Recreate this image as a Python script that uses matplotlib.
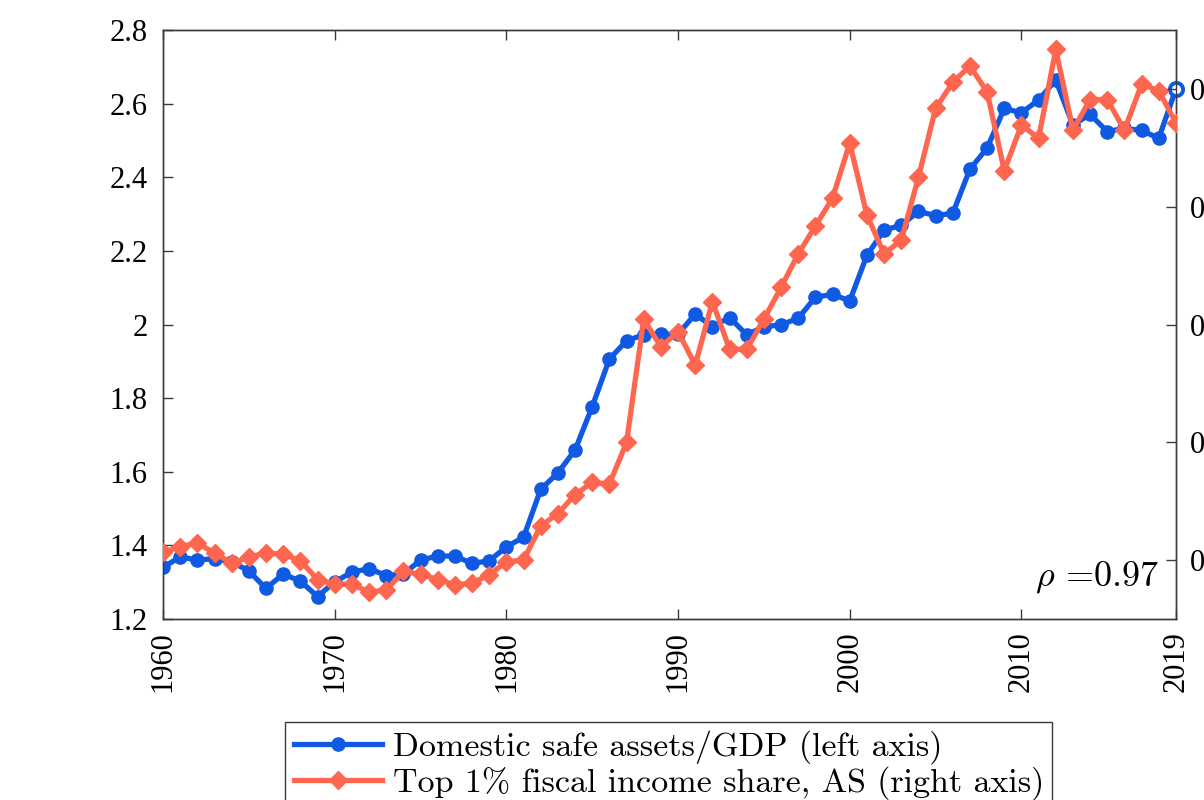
import numpy as np
import matplotlib
matplotlib.use('Agg')
import matplotlib.pyplot as plt

plt.rcParams['mathtext.fontset'] = 'cm'
plt.rcParams['axes.formatter.use_mathtext'] = True

years = list(range(1960, 2020))

# Domestic safe assets / GDP (left axis)
safe_assets = [
    1.340, 1.369, 1.360, 1.364, 1.356, 1.330, 1.283, 1.322, 1.303, 1.261,
    1.301, 1.327, 1.337, 1.318, 1.322, 1.360, 1.371, 1.371, 1.351, 1.358,
    1.396, 1.422, 1.552, 1.597, 1.659, 1.777, 1.906, 1.956, 1.972, 1.973,
    1.974, 2.028, 1.994, 2.019, 1.972, 1.994, 1.999, 2.017, 2.074, 2.082,
    2.064, 2.188, 2.256, 2.270, 2.307, 2.296, 2.302, 2.422, 2.479, 2.587,
    2.575, 2.610, 2.664, 2.542, 2.571, 2.524, 2.533, 2.527, 2.506, 2.640,
]

# Top 1% fiscal income share, AS (right axis)
top1_share = [
    0.0813, 0.0823, 0.0829, 0.0812, 0.0795, 0.0805, 0.0812, 0.0810, 0.0799, 0.0767,
    0.0759, 0.0759, 0.0746, 0.0749, 0.0781, 0.0776, 0.0767, 0.0758, 0.0761, 0.0775,
    0.0797, 0.0800, 0.0858, 0.0879, 0.0911, 0.0932, 0.0929, 0.1000, 0.1209, 0.1162,
    0.1188, 0.1131, 0.1239, 0.1158, 0.1158, 0.1209, 0.1263, 0.1320, 0.1367, 0.1415,
    0.1508, 0.1386, 0.1320, 0.1343, 0.1450, 0.1567, 0.1611, 0.1639, 0.1595, 0.1461,
    0.1539, 0.1516, 0.1667, 0.1530, 0.1582, 0.1582, 0.1530, 0.1608, 0.1597, 0.1542,
]

x_ticks = [1960, 1970, 1980, 1990, 2000, 2010, 2019]
left_ticks = [1.2, 1.4, 1.6, 1.8, 2.0, 2.2, 2.4, 2.6, 2.8]
left_labels = ['1.2', '1.4', '1.6', '1.8', '2', '2.2', '2.4', '2.6', '2.8']
right_ticks = [0.08, 0.10, 0.12, 0.14, 0.16]
right_labels = ['0.08', '0.1', '0.12', '0.14', '0.16']

labels = ['Domestic safe assets/GDP (left axis)',
          'Top 1% fiscal income share, AS (right axis)']
rho = 0.97

blue = '#1059E3'
orange = '#FF664F'
spine_col = '#3a3a3a'
cm_font = ['cmr10', 'DejaVu Serif']
tick_font = 'Liberation Serif'

fig = plt.figure(figsize=(12.04, 8), dpi=100)
ax = fig.add_axes([0.1354, 0.22625, 0.8413, 0.73625])
ax2 = ax.twinx()

l1, = ax.plot(years, safe_assets, color=blue, lw=3.8, marker='o', ms=9.5,
              markeredgecolor=blue, label=labels[0], zorder=3)
# last point drawn hollow as in the original
ax.plot(years[-1:], safe_assets[-1:], ls='none', marker='o', ms=9.5,
        markerfacecolor='white', markeredgecolor=blue, markeredgewidth=2.8,
        zorder=4, clip_on=False)
l2, = ax2.plot(years, top1_share, color=orange, lw=3.8, marker='D', ms=9,
               markeredgecolor=orange, label=labels[1], zorder=3)

ax.set_xlim(1960, 2019)
ax.set_ylim(1.2, 2.8)
ax2.set_ylim(0.07, 0.17)

ax.set_xticks(x_ticks)
ax.set_xticklabels([str(y) for y in x_ticks], rotation=90, family=tick_font, fontsize=22)
ax.set_yticks(left_ticks)
ax.set_yticklabels(left_labels, family=tick_font, fontsize=22)
ax2.set_yticks(right_ticks)
ax2.set_yticklabels(right_labels, family=tick_font, fontsize=22)

ax.tick_params(axis='x', direction='in', length=7, width=1, color=spine_col,
               top=True, pad=9)
ax.tick_params(axis='y', direction='in', length=7, width=1, color=spine_col,
               right=False, pad=11)
ax2.tick_params(axis='y', direction='in', length=7, width=1, color=spine_col, pad=10)

for a in (ax, ax2):
    for s in a.spines.values():
        s.set_color(spine_col)
        s.set_linewidth(1.0)

ax.text(0.984, 0.071, r'$\rho$ =' + f'{rho:.2f}', transform=ax.transAxes,
        ha='right', va='center', fontsize=26, family=cm_font)

fig.legend([l1, l2], labels, loc='upper center', bbox_to_anchor=(0.5555, 0.0975),
           prop={'family': cm_font, 'size': 24.5}, frameon=True, fancybox=False,
           edgecolor=spine_col, framealpha=1, handlelength=2.6, handletextpad=0.3,
           labelspacing=0.05, borderpad=0.25, borderaxespad=0)

fig.savefig('out.png', dpi=100)
